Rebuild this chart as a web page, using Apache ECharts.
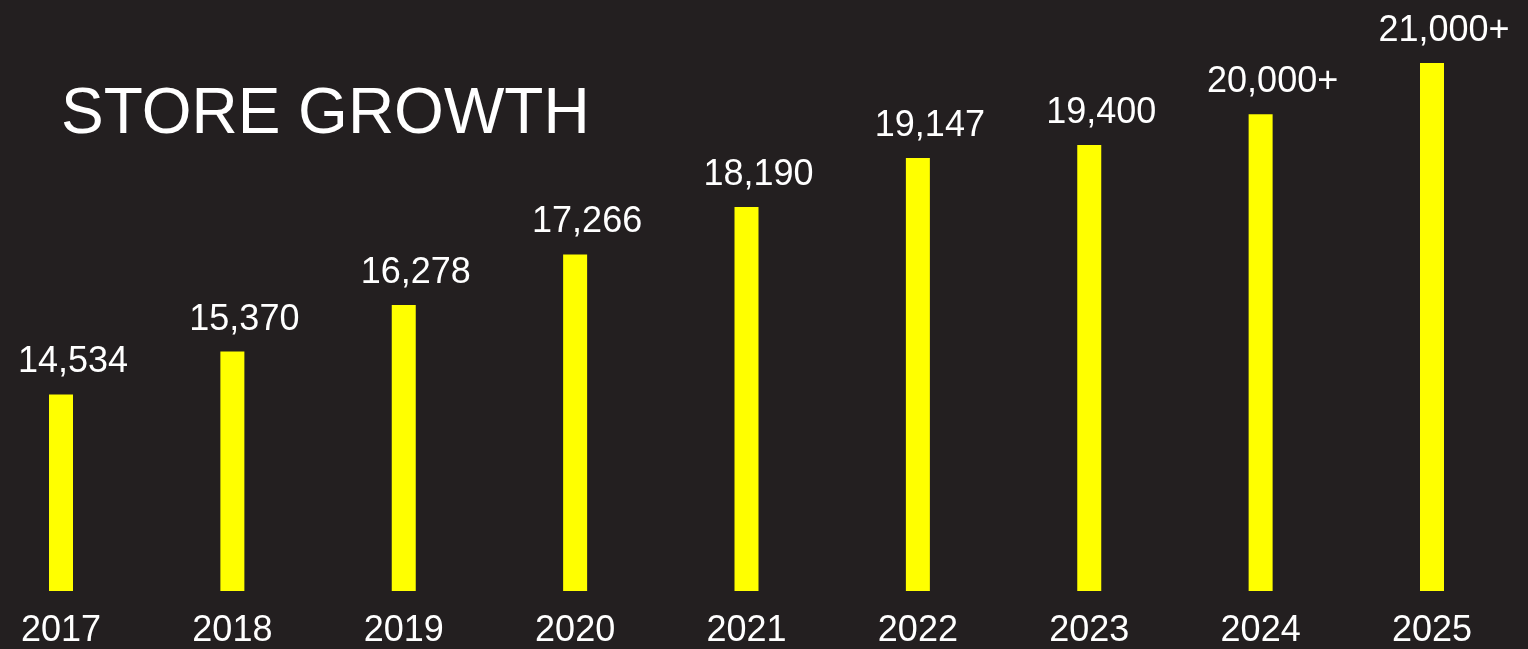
<!DOCTYPE html>
<html>
<head>
<meta charset="utf-8">
<title>Store Growth</title>
<script src="https://cdn.jsdelivr.net/npm/echarts@6/dist/echarts.min.js"></script>
<style>
  html, body { margin: 0; padding: 0; background: #231f20; }
  #storeChart { width: 1528px; height: 649px; }
</style>
</head>
<body>
<div id="storeChart"></div>
<script>
// data
var years = ['2017', '2018', '2019', '2020', '2021', '2022', '2023', '2024', '2025'];
var stores = [14534, 15370, 16278, 17266, 18190, 19147, 19400, 20000, 21000];
var storeLabels = ['14,534', '15,370', '16,278', '17,266', '18,190', '19,147', '19,400', '20,000+', '21,000+'];

var colors = {
  bg: '#231f20',
  bar: '#ffff00',
  text: '#ffffff'
};

var chart = echarts.init(document.getElementById('storeChart'));
chart.setOption({
  backgroundColor: colors.bg,
  animation: false,
  title: {
    text: 'STORE GROWTH',
    left: 56,
    top: 78,
    textStyle: {
      color: colors.text,
      fontFamily: 'Liberation Sans, Arial, sans-serif',
      fontWeight: 'normal',
      fontSize: 64
    }
  },
  grid: {
    left: 61,
    right: 96,
    top: 63,
    bottom: 56
  },
  xAxis: {
    type: 'category',
    data: years,
    boundaryGap: false,
    axisLine: { show: false },
    axisTick: { show: false },
    axisLabel: {
      color: colors.text,
      fontFamily: 'Liberation Sans, Arial, sans-serif',
      fontSize: 36,
      margin: 22
    }
  },
  yAxis: {
    type: 'value',
    min: 10700,
    max: 21000,
    show: false,
    splitLine: { show: false }
  },
  series: [{
    type: 'bar',
    data: stores,
    barWidth: 24,
    itemStyle: { color: colors.bar },
    label: {
      show: true,
      position: 'top',
      distance: 14,
      offset: [12, 0],
      color: colors.text,
      fontFamily: 'Liberation Sans, Arial, sans-serif',
      fontSize: 36,
      formatter: function (p) {
        return storeLabels[p.dataIndex];
      }
    }
  }]
});
</script>
</body>
</html>
